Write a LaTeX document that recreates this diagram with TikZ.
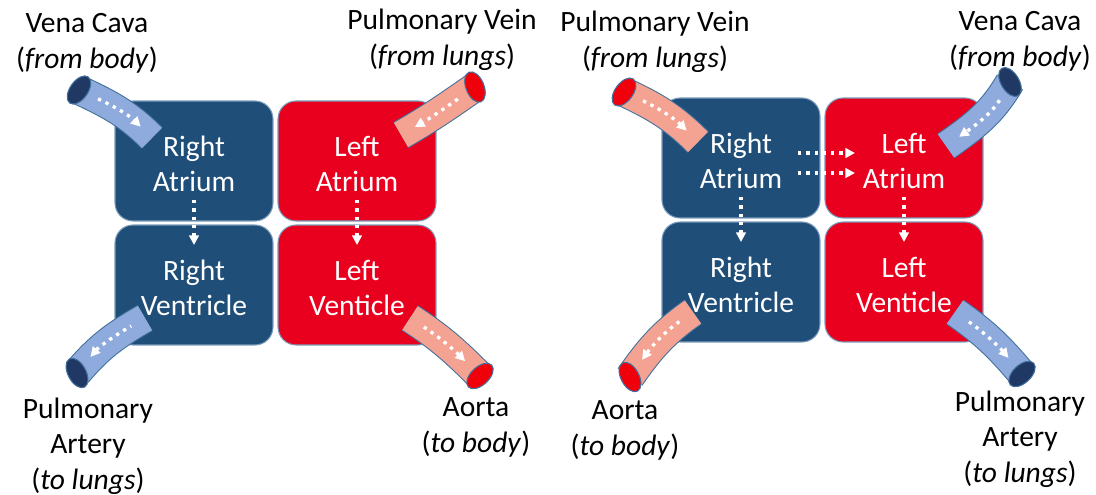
\documentclass[tikz,border=0pt]{standalone}
\usepackage{fontspec}
\setmainfont{Carlito}
\usepackage{tikz}
\usetikzlibrary{arrows.meta,shapes.geometric}
\definecolor{DeoxBlue}{RGB}{31,78,121}
\definecolor{OxRed}{RGB}{232,0,30}
\definecolor{VeinBlue}{RGB}{143,170,220}
\definecolor{VeinEnd}{RGB}{32,56,100}
\definecolor{ArtPink}{RGB}{244,162,146}
\definecolor{ArtEnd}{RGB}{240,0,10}
\definecolor{RimBlue}{RGB}{65,113,156}
\tikzset{
  chamber/.style={rounded corners=0.36cm,draw=RimBlue!70,line width=0.6pt,
                  minimum width=3.16cm,minimum height=2.4cm,inner sep=0pt,
                  text height=35pt,
                  text=white,align=center,font=\fontsize{16.8}{20.2}\selectfont},
  deox/.style={chamber,fill=DeoxBlue},
  oxy/.style={chamber,fill=OxRed},
  lbl/.style={align=center,anchor=base,inner sep=0pt,
              font=\fontsize{16.8}{20.2}\selectfont},
  tube/.style={draw=RimBlue,line width=0.6pt,double distance=0.56cm},
  btube/.style={tube,double=VeinBlue},
  rtube/.style={tube,double=ArtPink},
  rim/.style={ellipse,draw=RimBlue,line width=0.6pt,inner sep=0pt,
              minimum width=0.36cm,minimum height=0.64cm},
  brim/.style={rim,fill=VeinEnd},
  rrim/.style={rim,fill=ArtEnd},
  flow/.style={draw=white,line width=1.9pt,dash pattern=on 1.9pt off 2.8pt,
               -{Triangle[length=5.5pt,width=5.5pt]}},
  inflow/.style={flow,shorten <=0.42cm,shorten >=0.32cm},
  outflow/.style={flow,{Triangle[length=5.5pt,width=5.5pt]}-,
                  shorten <=0.42cm,shorten >=0.32cm},
}

\begin{document}
\begin{tikzpicture}[x=0.02cm,y=0.02cm]
  \useasboundingbox (0,-494) rectangle (1096,0);
  % first heart
  \node[deox] (ra1) at (194,-161) {Right\\Atrium};
  \node[oxy]  (la1) at (357,-161) {Left\\Atrium};
  \node[deox] (rv1) at (194,-285) {Right\\Ventricle};
  \node[oxy]  (lv1) at (357,-285) {Left\\Venticle};
  \draw[flow,shorten <=0.78cm,shorten >=0.8cm] (ra1.center) -- (rv1.center);
  \draw[flow,shorten <=0.78cm,shorten >=0.8cm] (la1.center) -- (lv1.center);
  % second heart
  \node[deox] (ra2) at (741,-158) {Right\\Atrium};
  \node[oxy]  (la2) at (904,-158) {Left\\Atrium};
  \node[deox] (rv2) at (741,-282) {Right\\Ventricle};
  \node[oxy]  (lv2) at (904,-282) {Left\\Venticle};
  \draw[flow,shorten <=0.78cm,shorten >=0.8cm] (ra2.center) -- (rv2.center);
  \draw[flow,shorten <=0.78cm,shorten >=0.8cm] (la2.center) -- (lv2.center);
  \draw[flow,shorten <=1.14cm,shorten >=0.98cm] ([yshift=0.1cm]ra2.center) -- ([yshift=0.1cm]la2.center);
  \draw[flow,shorten <=1.14cm,shorten >=0.98cm] ([yshift=-0.3cm]ra2.center) -- ([yshift=-0.3cm]la2.center);

  % vessels of the first heart (outer end -> chamber end)
  \coordinate (vc1o) at (79,-90);   \coordinate (vc1i) at (152,-138);
  \coordinate (pv1o) at (475,-87);  \coordinate (pv1i) at (401,-135);
  \coordinate (pa1o) at (77,-373);  \coordinate (pa1i) at (145,-318);
  \coordinate (ao1o) at (480,-376); \coordinate (ao1i) at (410,-318);
  \draw[btube] (vc1o) to[out=-25,in=135] (vc1i);
  \draw[inflow] (vc1o) to[out=-25,in=135] (vc1i);
  \node[brim,rotate=-35] (vc1e) at (vc1o) {};
  \draw[rtube] (pv1o) to[out=-145,in=30] (pv1i);
  \draw[inflow] (pv1o) to[out=-145,in=30] (pv1i);
  \node[rrim,rotate=22] (pv1e) at (pv1o) {};
  \draw[btube] (pa1o) to[out=50,in=-150] (pa1i);
  \draw[outflow] (pa1o) to[out=50,in=-150] (pa1i);
  \node[brim,rotate=28] (pa1e) at (pa1o) {};
  \draw[rtube] (ao1o) to[out=135,in=-33] (ao1i);
  \draw[outflow] (ao1o) to[out=135,in=-33] (ao1i);
  \node[rrim,rotate=-47] (ao1e) at (ao1o) {};

  % vessels of the second heart
  \coordinate (pv2o) at (624,-92);   \coordinate (pv2i) at (698,-142);
  \coordinate (vc2o) at (1010,-82);  \coordinate (vc2i) at (946,-146);
  \coordinate (ao2o) at (630,-377);  \coordinate (ao2i) at (693,-312);
  \coordinate (pa2o) at (1022,-374); \coordinate (pa2i) at (955,-312);
  \draw[rtube] (pv2o) to[out=-25,in=135] (pv2i);
  \draw[inflow] (pv2o) to[out=-25,in=135] (pv2i);
  \node[rrim,rotate=-36] (pv2e) at (pv2o) {};
  \draw[btube] (vc2o) to[out=-120,in=35] (vc2i);
  \draw[inflow] (vc2o) to[out=-120,in=35] (vc2i);
  \node[brim,rotate=31] (vc2e) at (vc2o) {};
  \draw[rtube] (ao2o) to[out=55,in=-145] (ao2i);
  \draw[outflow] (ao2o) to[out=55,in=-145] (ao2i);
  \node[rrim,rotate=28] (ao2e) at (ao2o) {};
  \draw[btube] (pa2o) to[out=130,in=-35] (pa2i);
  \draw[outflow] (pa2o) to[out=130,in=-35] (pa2i);
  \node[brim,rotate=-47] (pa2e) at (pa2o) {};

  % labels (anchored at the baseline of their last line)
  \node[lbl] (vc1t) at (87,-68)   {Vena Cava\\(\textit{from body})};
  \node[lbl] (pv1t) at (442,-65)  {Pulmonary Vein\\(\textit{from lungs})};
  \node[lbl] (pa1t) at (88,-489)  {Pulmonary\\Artery\\(\textit{to lungs})};
  \node[lbl] (ao1t) at (476,-452) {Aorta\\(\textit{to body})};
  \node[lbl] (pv2t) at (655,-67)  {Pulmonary Vein\\(\textit{from lungs})};
  \node[lbl] (vc2t) at (1020,-66) {Vena Cava\\(\textit{from body})};
  \node[lbl] (ao2t) at (625,-455) {Aorta\\(\textit{to body})};
  \node[lbl] (pa2t) at (1020,-482) {Pulmonary\\Artery\\(\textit{to lungs})};
\end{tikzpicture}
\end{document}
